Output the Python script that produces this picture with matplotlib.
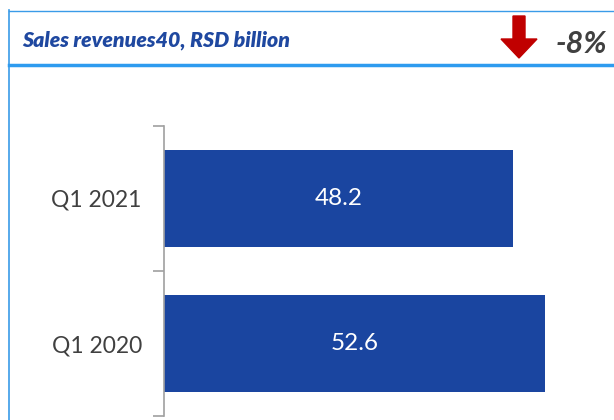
import matplotlib.pyplot as plt
from matplotlib.patches import FancyArrow
from matplotlib.lines import Line2D

# data
categories = ["Q1 2020", "Q1 2021"]
values = [52.6, 48.2]
title = "Sales revenues40, RSD billion"
change = "-8%"

plt.rcParams['font.family'] = ['Lato', 'DejaVu Sans']

fig = plt.figure(figsize=(6.14, 4.2), dpi=100)

# frame lines
fig.add_artist(Line2D([9/614, 9/614], [0, 1 - 10/420], color='#3a9be8', lw=1.2))
fig.add_artist(Line2D([9/614, 1], [1 - 10.5/420, 1 - 10.5/420], color='#3a9be8', lw=1.0))
fig.add_artist(Line2D([9/614, 1], [1 - 65/420, 1 - 65/420], color='#2e9bef', lw=2.5))

fig.text(22/614, 1 - 40/420, title, fontsize=15.3, fontweight='heavy', fontstyle='italic',
         color='#1f48a0', va='center', ha='left')
fig.text(607/614, 1 - 44/420, change, fontsize=22, fontweight='bold', fontstyle='italic',
         color='#404040', va='center', ha='right')
fig.add_artist(FancyArrow(519/614, 1 - 16/420, 0, -42/420, width=12/614, head_width=36/614,
                          head_length=19/420, length_includes_head=True,
                          color='#c00000', transform=fig.transFigure))

ax = fig.add_axes([164/614, 1 - 416/420, 1 - 164/614, 290/420])
ypos = list(range(len(categories)))
bars = ax.barh(ypos, values, height=0.67, color='#1a45a0')
for y, v in zip(ypos, values):
    ax.text(v / 2, y, f"{v:.1f}", color='white', fontsize=17.5, ha='center', va='center')

ax.set_xlim(0, 62.2)
ax.set_ylim(-0.5, 1.5)
ax.set_yticks(ypos)
ax.set_yticklabels(categories, fontsize=16.5, color='#404040')
ax.tick_params(axis='y', which='major', length=0, pad=16)
ax.set_yticks([-0.5, 0.5, 1.5], minor=True)
ax.tick_params(axis='y', which='minor', length=8, color='#a0a0a0', width=1.2)
ax.set_xticks([])
for s in ['top', 'right', 'bottom']:
    ax.spines[s].set_visible(False)
ax.spines['left'].set_color('#a0a0a0')
ax.spines['left'].set_linewidth(1.2)

fig.savefig("out.png", dpi=100)
